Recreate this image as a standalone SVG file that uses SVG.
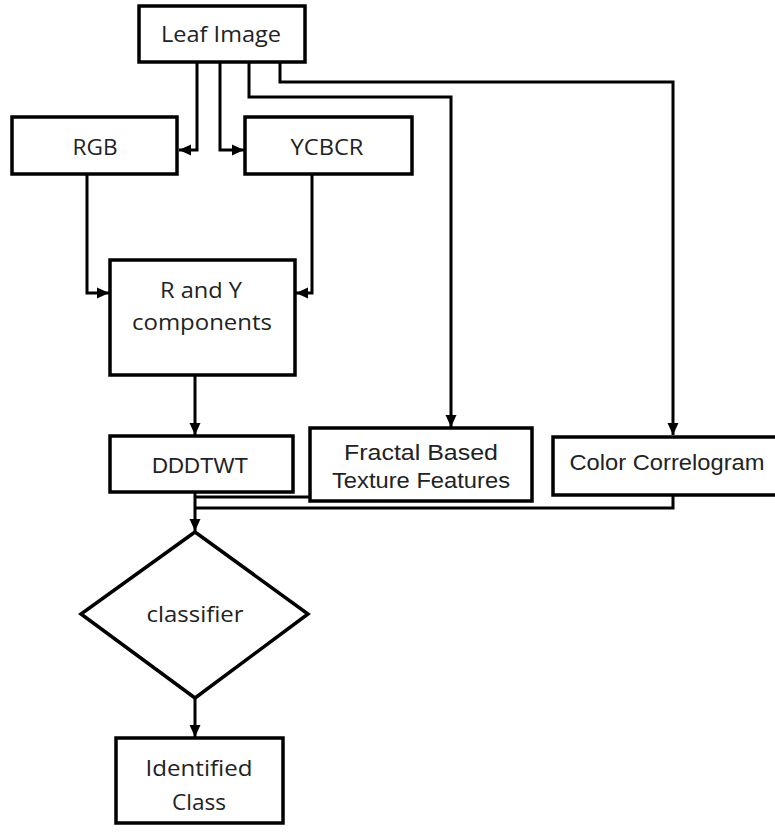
<svg xmlns="http://www.w3.org/2000/svg" width="775" height="834" viewBox="0 0 775 834">
<style>
.box{fill:#fff;stroke:#000;stroke-width:3.5}
.c{fill:none;stroke:#000;stroke-width:3}
.t1{font-family:"Open Sans","Noto Sans",sans-serif;font-size:22px;fill:#222;text-anchor:middle}
.t2{font-family:"Liberation Sans",Arial,sans-serif;font-size:22px;fill:#222;text-anchor:middle}
</style>
<defs>
<marker id="ah" markerUnits="userSpaceOnUse" markerWidth="14" markerHeight="14" refX="12" refY="7" orient="auto">
<path d="M0,1.5 L12,7 L0,12.5 z" fill="#000"/>
</marker>
</defs>
<rect width="775" height="834" fill="#fff"/>
<g id="connectors">
<path class="c" d="M197,62 V150 H179" marker-end="url(#ah)"/>
<path class="c" d="M220,62 V150 H244" marker-end="url(#ah)"/>
<path class="c" d="M249,62 V97 H451 V427" marker-end="url(#ah)"/>
<path class="c" d="M280,62 V82 H673 V435" marker-end="url(#ah)"/>
<path class="c" d="M87,174 V293 H109" marker-end="url(#ah)"/>
<path class="c" d="M312,174 V293 H296" marker-end="url(#ah)"/>
<path class="c" d="M195,375 V435" marker-end="url(#ah)"/>
<path class="c" d="M195,492 V531" marker-end="url(#ah)"/>
<path class="c" d="M310,497 H195"/>
<path class="c" d="M673,495 V508 H195"/>
<path class="c" d="M195,698 V737" marker-end="url(#ah)"/>
</g>
<g id="leaf-image">
<rect class="box" x="139" y="6" width="166" height="56"/>
<text class="t1" x="221" y="42" textLength="120" lengthAdjust="spacingAndGlyphs">Leaf Image</text>
</g>
<g id="rgb">
<rect class="box" x="12" y="117" width="165" height="57"/>
<text class="t1" x="95" y="155" textLength="45" lengthAdjust="spacingAndGlyphs">RGB</text>
</g>
<g id="ycbcr">
<rect class="box" x="245" y="117" width="167" height="57"/>
<text class="t1" x="327" y="155" textLength="73" lengthAdjust="spacingAndGlyphs">YCBCR</text>
</g>
<g id="r-and-y">
<rect class="box" x="110" y="260" width="185" height="115"/>
<text class="t1" x="201" y="298" textLength="82" lengthAdjust="spacingAndGlyphs">R and Y</text>
<text class="t1" x="202" y="330" textLength="140" lengthAdjust="spacingAndGlyphs">components</text>
</g>
<g id="dddtwt">
<rect class="box" x="110" y="436" width="183" height="56"/>
<text class="t2" x="200" y="473" textLength="96" lengthAdjust="spacingAndGlyphs">DDDTWT</text>
</g>
<g id="fractal">
<rect class="box" x="310" y="428" width="222" height="73"/>
<text class="t2" x="421" y="460" textLength="154" lengthAdjust="spacingAndGlyphs">Fractal Based</text>
<text class="t2" x="421" y="488" textLength="178" lengthAdjust="spacingAndGlyphs">Texture Features</text>
</g>
<g id="color-correlogram">
<rect class="box" x="553" y="437" width="226" height="58"/>
<text class="t2" x="667" y="470" textLength="195" lengthAdjust="spacingAndGlyphs">Color Correlogram</text>
</g>
<g id="classifier">
<polygon class="box" points="195,532 308,614 195,698 81,614"/>
<text class="t1" x="195" y="622" textLength="97" lengthAdjust="spacingAndGlyphs">classifier</text>
</g>
<g id="identified-class">
<rect class="box" x="116" y="738" width="167" height="85"/>
<text class="t1" x="199" y="776" textLength="107" lengthAdjust="spacingAndGlyphs">Identified</text>
<text class="t1" x="199" y="810" textLength="54" lengthAdjust="spacingAndGlyphs">Class</text>
</g>
</svg>
